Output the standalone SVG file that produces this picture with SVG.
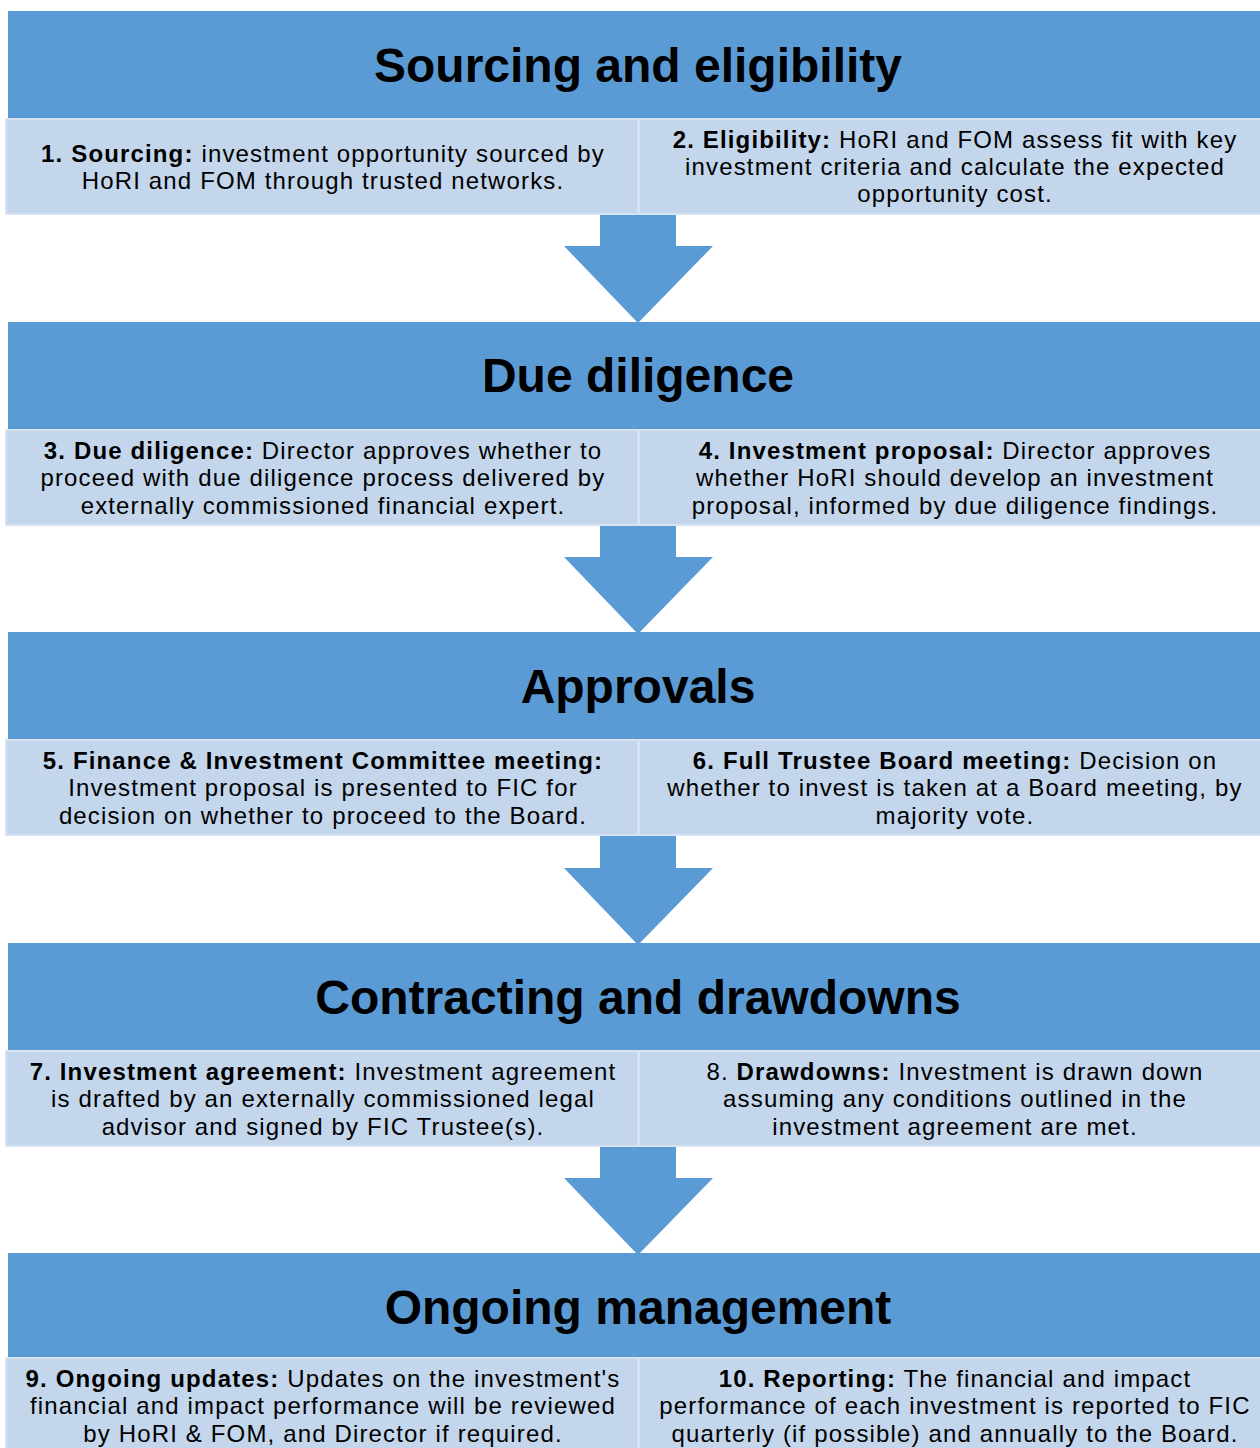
<svg xmlns="http://www.w3.org/2000/svg" width="1260" height="1448" viewBox="0 0 1260 1448">
  <style>
    .band { fill: #5b9bd5; }
    .cell { fill: #c3d6ec; stroke: #d6e3f2; stroke-width: 2; }
    .arrow { fill: #5b9bd5; }
    .title { font-family: "Liberation Sans", Arial, sans-serif; font-weight: bold; font-size: 48px; fill: #000; text-anchor: middle; }
    .body { font-family: "Liberation Sans", Arial, sans-serif; font-size: 24px; letter-spacing: 1.15px; fill: #000; text-anchor: middle; }
    .b { font-weight: bold; }
  </style>
  <rect width="1260" height="1448" fill="#ffffff"/>

  <!-- down arrows between stages -->
  <g id="connectors">
    <polygon class="arrow" points="600,214 676,214 676,246 713,246 638,323 564,246 600,246"/>
    <polygon class="arrow" points="600,525 676,525 676,557 713,557 638,634 564,557 600,557"/>
    <polygon class="arrow" points="600,836 676,836 676,868 713,868 638,945 564,868 600,868"/>
    <polygon class="arrow" points="600,1146 676,1146 676,1178 713,1178 638,1255 564,1178 600,1178"/>
  </g>

  <!-- Stage 1 -->
  <g id="stage1">
    <rect class="band" x="8" y="11" width="1252" height="108"/>
    <text class="title" x="638" y="82">Sourcing and eligibility</text>
  </g>
  <g id="step1">
    <rect class="cell" x="6" y="119" width="632" height="95"/>
    <text class="body" x="323" y="162"><tspan class="b">1. Sourcing:</tspan> investment opportunity sourced by</text>
    <text class="body" x="323" y="189">HoRI and FOM through trusted networks.</text>
  </g>
  <g id="step2">
    <rect class="cell" x="639" y="119" width="625" height="95"/>
    <text class="body" x="955" y="148"><tspan class="b">2. Eligibility:</tspan> HoRI and FOM assess fit with key</text>
    <text class="body" x="955" y="175">investment criteria and calculate the expected</text>
    <text class="body" x="955" y="202">opportunity cost.</text>
  </g>

  <!-- Stage 2 -->
  <g id="stage2">
    <rect class="band" x="8" y="322" width="1252" height="108"/>
    <text class="title" x="638" y="392">Due diligence</text>
  </g>
  <g id="step3">
    <rect class="cell" x="6" y="430" width="632" height="95"/>
    <text class="body" x="323" y="459"><tspan class="b">3. Due diligence:</tspan> Director approves whether to</text>
    <text class="body" x="323" y="486">proceed with due diligence process delivered by</text>
    <text class="body" x="323" y="514">externally commissioned financial expert.</text>
  </g>
  <g id="step4">
    <rect class="cell" x="639" y="430" width="625" height="95"/>
    <text class="body" x="955" y="459"><tspan class="b">4. Investment proposal:</tspan> Director approves</text>
    <text class="body" x="955" y="486">whether HoRI should develop an investment</text>
    <text class="body" x="955" y="514">proposal, informed by due diligence findings.</text>
  </g>

  <!-- Stage 3 -->
  <g id="stage3">
    <rect class="band" x="8" y="632" width="1252" height="108"/>
    <text class="title" x="638" y="703">Approvals</text>
  </g>
  <g id="step5">
    <rect class="cell" x="6" y="740" width="632" height="95"/>
    <text class="body" x="323" y="769"><tspan class="b">5. Finance &amp; Investment Committee meeting:</tspan></text>
    <text class="body" x="323" y="796">Investment proposal is presented to FIC for</text>
    <text class="body" x="323" y="824">decision on whether to proceed to the Board.</text>
  </g>
  <g id="step6">
    <rect class="cell" x="639" y="740" width="625" height="95"/>
    <text class="body" x="955" y="769"><tspan class="b">6. Full Trustee Board meeting:</tspan> Decision on</text>
    <text class="body" x="955" y="796">whether to invest is taken at a Board meeting, by</text>
    <text class="body" x="955" y="824">majority vote.</text>
  </g>

  <!-- Stage 4 -->
  <g id="stage4">
    <rect class="band" x="8" y="943" width="1252" height="108"/>
    <text class="title" x="638" y="1014">Contracting and drawdowns</text>
  </g>
  <g id="step7">
    <rect class="cell" x="6" y="1051" width="632" height="95"/>
    <text class="body" x="323" y="1080"><tspan class="b">7. Investment agreement:</tspan> Investment agreement</text>
    <text class="body" x="323" y="1107">is drafted by an externally commissioned legal</text>
    <text class="body" x="323" y="1135">advisor and signed by FIC Trustee(s).</text>
  </g>
  <g id="step8">
    <rect class="cell" x="639" y="1051" width="625" height="95"/>
    <text class="body" x="955" y="1080">8. <tspan class="b">Drawdowns:</tspan> Investment is drawn down</text>
    <text class="body" x="955" y="1107">assuming any conditions outlined in the</text>
    <text class="body" x="955" y="1135">investment agreement are met.</text>
  </g>

  <!-- Stage 5 -->
  <g id="stage5">
    <rect class="band" x="8" y="1253" width="1252" height="105"/>
    <text class="title" x="638" y="1324">Ongoing management</text>
  </g>
  <g id="step9">
    <rect class="cell" x="6" y="1358" width="632" height="95"/>
    <text class="body" x="323" y="1387"><tspan class="b">9. Ongoing updates:</tspan> Updates on the investment's</text>
    <text class="body" x="323" y="1414">financial and impact performance will be reviewed</text>
    <text class="body" x="323" y="1442">by HoRI &amp; FOM, and Director if required.</text>
  </g>
  <g id="step10">
    <rect class="cell" x="639" y="1358" width="625" height="95"/>
    <text class="body" x="955" y="1387"><tspan class="b">10. Reporting:</tspan> The financial and impact</text>
    <text class="body" x="955" y="1414">performance of each investment is reported to FIC</text>
    <text class="body" x="955" y="1442">quarterly (if possible) and annually to the Board.</text>
  </g>
</svg>
